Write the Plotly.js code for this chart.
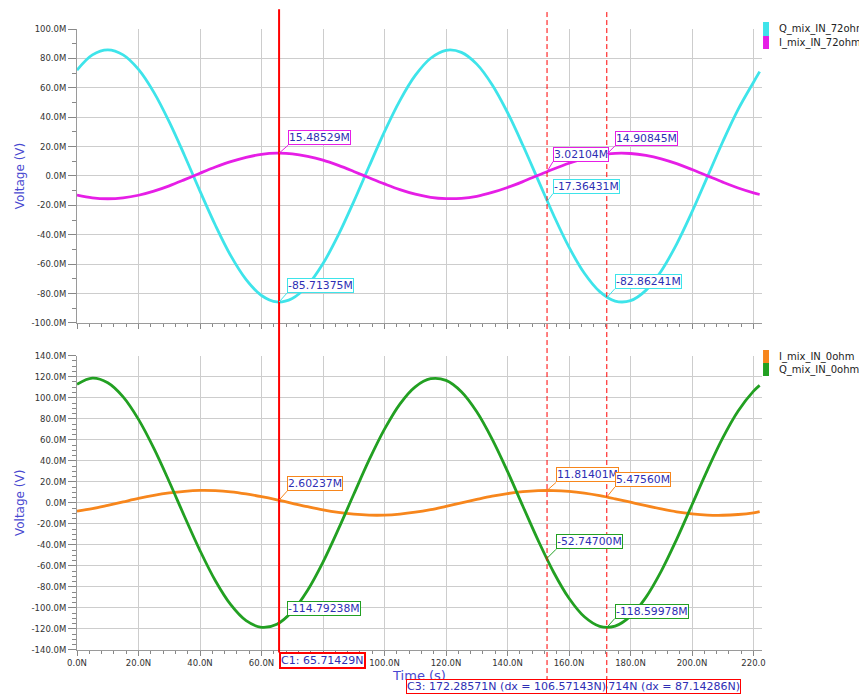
<!DOCTYPE html>
<html>
<head>
<meta charset="utf-8">
<script src="https://cdn.plot.ly/plotly-3.0.1.min.js"></script>
<style>html,body{margin:0;padding:0;background:#fff}#chart{width:859px;height:695px}</style>
</head>
<body>
<div id="chart"></div>
<script>
// ---- data (time in ns, voltages in "M" units as shown on the axes) ----
const time = [0,5,10,15,20,25,30,35,40,45,50,55,60,65,70,75,80,85,90,95,100,105,110,115,120,125,130,135,140,145,150,155,160,165,170,175,180,185,190,195,200,205,210,215,220,222];
const qMix72 = [72.0,82.4,85.8,82.4,72.5,56.9,36.8,13.8,-10.3,-33.5,-54.2,-70.5,-81.3,-85.7,-83.3,-74.4,-59.6,-40.1,-17.4,6.6,30.2,51.3,68.4,80.1,85.5,84.1,76.1,62.1,43.2,20.9,-3.0,-26.7,-48.4,-66.2,-78.7,-85.1,-84.8,-77.8,-64.6,-46.3,-24.4,-0.6,23.3,45.3,63.8,71.0];
const iMix72 = [-13.0,-14.9,-15.5,-14.9,-13.1,-10.3,-6.7,-2.5,1.9,6.1,9.8,12.7,14.7,15.5,15.1,13.4,10.8,7.2,3.1,-1.2,-5.4,-9.3,-12.4,-14.5,-15.4,-15.2,-13.8,-11.2,-7.8,-3.8,0.5,4.8,8.7,12.0,14.2,15.4,15.3,14.0,11.7,8.4,4.4,0.1,-4.2,-8.2,-11.5,-12.6];
const iMix0 = [-7.9,-5.5,-2.4,0.9,4.2,7.1,9.4,11.0,11.8,11.6,10.5,8.5,5.9,2.9,-0.4,-3.7,-6.7,-9.1,-10.8,-11.7,-11.7,-10.7,-8.9,-6.4,-3.3,-0.1,3.2,6.3,8.8,10.6,11.6,11.7,10.9,9.2,6.8,3.8,0.6,-2.7,-5.8,-8.5,-10.4,-11.6,-11.8,-11.1,-9.5,-8.4];
const qMix0 = [112.8,118.6,114.2,100.8,79.4,51.8,20.1,-13.2,-45.4,-74.1,-96.9,-112.1,-118.4,-115.4,-103.3,-83.1,-56.3,-25.0,8.2,40.8,70.1,94.0,110.4,118.1,116.5,105.7,86.6,60.6,29.9,-3.2,-36.0,-66.0,-90.8,-108.4,-117.5,-117.3,-107.8,-89.9,-64.9,-34.7,-1.8,31.2,61.8,87.4,106.3,111.8];

const seriesNames = ['Q_mix_IN_72ohm','I_mix_IN_72ohm','I_mix_IN_0ohm','Q_mix_IN_0ohm'];

// cursors
const cursorNames = ['C1','C2','C3'];
const cursorTimes = [65.71429, 152.85714, 172.28571];
const cursorDx = [null, 87.14286, 106.57143];
// marker readouts at the cursors
const qMix72AtCursors = [-85.71375, -17.36431, -82.86241];
const iMix72AtCursors = [15.48529, 3.02104, 14.90845];
const iMix0AtCursors = [2.60237, 11.81401, 5.47560];
const qMix0AtCursors = [-114.79238, -52.74700, -118.59978];

// tick labels
const xTickVals = [0,20,40,60,80,100,120,140,160,180,200,220];
const xTickText = ['0.0N','20.0N','40.0N','60.0N','80.0N','100.0N','120.0N','140.0N','160.0N','180.0N','200.0N','220.0'];
const yTopTickVals = [-100,-80,-60,-40,-20,0,20,40,60,80,100];
const yTopTickText = ['-100.0M','-80.0M','-60.0M','-40.0M','-20.0M','0.0M','20.0M','40.0M','60.0M','80.0M','100.0M'];
const yBotTickVals = [-140,-120,-100,-80,-60,-40,-20,0,20,40,60,80,100,120,140];
const yBotTickText = ['-140.0M','-120.0M','-100.0M','-80.0M','-60.0M','-40.0M','-20.0M','0.0M','20.0M','40.0M','60.0M','80.0M','100.0M','120.0M','140.0M'];

// ---- styling ----
const C_Q72 = '#3ee4ea', C_I72 = '#e61ee6', C_I0 = '#f7861c', C_Q0 = '#22a022';
const BLUE = '#2e2eb4', TITLE_BLUE = '#4848d0';
const FONT = 'DejaVu Sans';
const GRID = '#cdcdcd', AXLINE = '#9a9a9a';

function line(color){ return {color: color, width: 2.8, shape: 'spline', smoothing: 1}; }

const traces = [
  {x: time, y: qMix72, name: seriesNames[0], xaxis: 'x', yaxis: 'y', mode: 'lines', line: line(C_Q72), showlegend: false, hoverinfo: 'skip'},
  {x: time, y: iMix72, name: seriesNames[1], xaxis: 'x', yaxis: 'y', mode: 'lines', line: line(C_I72), showlegend: false, hoverinfo: 'skip'},
  {x: time, y: iMix0,  name: seriesNames[2], xaxis: 'x2', yaxis: 'y2', mode: 'lines', line: line(C_I0), showlegend: false, hoverinfo: 'skip'},
  {x: time, y: qMix0,  name: seriesNames[3], xaxis: 'x2', yaxis: 'y2', mode: 'lines', line: line(C_Q0), showlegend: false, hoverinfo: 'skip'}
];

const tickFont = {family: FONT, size: 8.5, color: '#333'};
function xAxis(extra){
  return Object.assign({
    range: [0, 222.76], tickmode: 'array', tickvals: xTickVals, ticktext: xTickText,
    ticks: 'outside', ticklen: 5, tickwidth: 1, tickcolor: '#888',
    minor: {dtick: 4, tick0: 0, ticks: 'outside', ticklen: 3, tickcolor: '#888', showgrid: false},
    showgrid: true, gridcolor: GRID, gridwidth: 1, showline: true, linecolor: AXLINE, linewidth: 1,
    zeroline: false, tickfont: tickFont, fixedrange: true
  }, extra);
}
function yAxis(extra){
  return Object.assign({
    tickmode: 'array', ticks: 'outside', ticklen: 8, tickwidth: 1, tickcolor: '#888',
    showgrid: true, gridcolor: GRID, gridwidth: 1, showline: true, linecolor: AXLINE, linewidth: 1,
    zeroline: false, tickfont: tickFont, fixedrange: true,
    title: {text: 'Voltage (V)', font: {family: FONT, size: 12, color: TITLE_BLUE}, standoff: 4}
  }, extra);
}

// ---- cursors ----
const shapes = [];
cursorTimes.forEach(function(t, k){
  shapes.push({type: 'line', xref: 'x', yref: 'paper', x0: t, x1: t,
    y0: k === 0 ? -0.004 : -0.05, y1: 1.032,
    line: {color: '#ff0000', width: k === 0 ? 2 : 1, dash: k === 0 ? 'solid' : '5px,3px'}});
});

// ---- legends (drawn as colour blocks + text) ----
const legendItems = [
  {name: seriesNames[0], color: C_Q72, y0: 1.0113, y1: 0.9887, ty: 1.0008},
  {name: seriesNames[1], color: C_I72, y0: 0.9887, y1: 0.9678, ty: 0.9775},
  {name: seriesNames[2], color: C_I0,  y0: 0.4831, y1: 0.4622, ty: 0.4723},
  {name: seriesNames[3], color: C_Q0,  y0: 0.4622, y1: 0.4412, ty: 0.4509}
];
const annotations = [];
legendItems.forEach(function(it){
  shapes.push({type: 'rect', xref: 'paper', yref: 'paper', x0: 1.0015, x1: 1.0102, y0: it.y1, y1: it.y0,
    fillcolor: it.color, line: {width: 0}});
  annotations.push({xref: 'paper', yref: 'paper', x: 1.0215, y: it.ty, xanchor: 'left', yanchor: 'middle',
    text: it.name, showarrow: false, font: {family: FONT, size: 10, color: '#222'}});
});

// ---- marker readouts ----
function addReadouts(values, color, xref, yref, offsets){
  values.forEach(function(v, k){
    annotations.push({x: cursorTimes[k], y: v, xref: xref, yref: yref,
      text: v.toFixed(5) + 'M', showarrow: true, arrowhead: 0, arrowwidth: 1, arrowcolor: color,
      ax: offsets[k][0], ay: offsets[k][1], xanchor: 'left', yanchor: 'bottom',
      bgcolor: '#ffffff', bordercolor: color, borderwidth: 1, borderpad: 0,
      font: {family: FONT, size: 10.8, color: BLUE}});
  });
}
addReadouts(iMix72AtCursors, C_I72, 'x', 'y', [[9,-8],[6,-10],[8,-8]]);
addReadouts(qMix72AtCursors, C_Q72, 'x', 'y', [[8,-9],[6,-8],[8,-9]]);
addReadouts(iMix0AtCursors, C_I0, 'x2', 'y2', [[8,-9],[9,-8],[8,-10]]);
addReadouts(qMix0AtCursors, C_Q0, 'x2', 'y2', [[8,-8],[9,-9],[8,-9]]);

// ---- cursor labels ----
const cursorLabelStyle = {xref: 'x', yref: 'paper', showarrow: false, bgcolor: '#ffffff',
  bordercolor: '#ff0000', borderpad: 0, font: {family: FONT, size: 11, color: BLUE}, yanchor: 'top'};
annotations.push(Object.assign({}, cursorLabelStyle, {x: cursorTimes[0], y: -0.004, xanchor: 'left', borderwidth: 2,
  text: cursorNames[0] + ': ' + cursorTimes[0].toFixed(5) + 'N'}));
annotations.push(Object.assign({}, cursorLabelStyle, {x: cursorTimes[1], y: -0.047, xanchor: 'left', borderwidth: 1,
  text: cursorNames[1] + ': ' + cursorTimes[1].toFixed(5) + 'N (dx = ' + cursorDx[1].toFixed(5) + 'N)'}));
annotations.push(Object.assign({}, cursorLabelStyle, {x: cursorTimes[2], y: -0.047, xanchor: 'right', borderwidth: 1,
  text: cursorNames[2] + ': ' + cursorTimes[2].toFixed(5) + 'N (dx = ' + cursorDx[2].toFixed(5) + 'N)'}));

const layout = {
  width: 859, height: 695,
  margin: {l: 77, r: 97, t: 29, b: 45, pad: 0},
  paper_bgcolor: '#ffffff', plot_bgcolor: '#ffffff',
  showlegend: false,
  xaxis: xAxis({anchor: 'y', showticklabels: false}),
  xaxis2: xAxis({anchor: 'y2', title: {text: 'Time (s)', font: {family: FONT, size: 13, color: TITLE_BLUE}, standoff: 0}}),
  yaxis: yAxis({domain: [0.5266, 1], range: [-100, 100], tickvals: yTopTickVals, ticktext: yTopTickText,
    minor: {dtick: 10, tick0: 0, ticks: 'outside', ticklen: 4, tickcolor: '#888', showgrid: false}}),
  yaxis2: yAxis({domain: [0, 0.4739], range: [-140, 140], tickvals: yBotTickVals, ticktext: yBotTickText,
    minor: {dtick: 5, tick0: 0, ticks: 'outside', ticklen: 4, tickcolor: '#888', showgrid: false}}),
  shapes: shapes,
  annotations: annotations
};

Plotly.newPlot('chart', traces, layout, {displayModeBar: false, staticPlot: true});
</script>
</body>
</html>
